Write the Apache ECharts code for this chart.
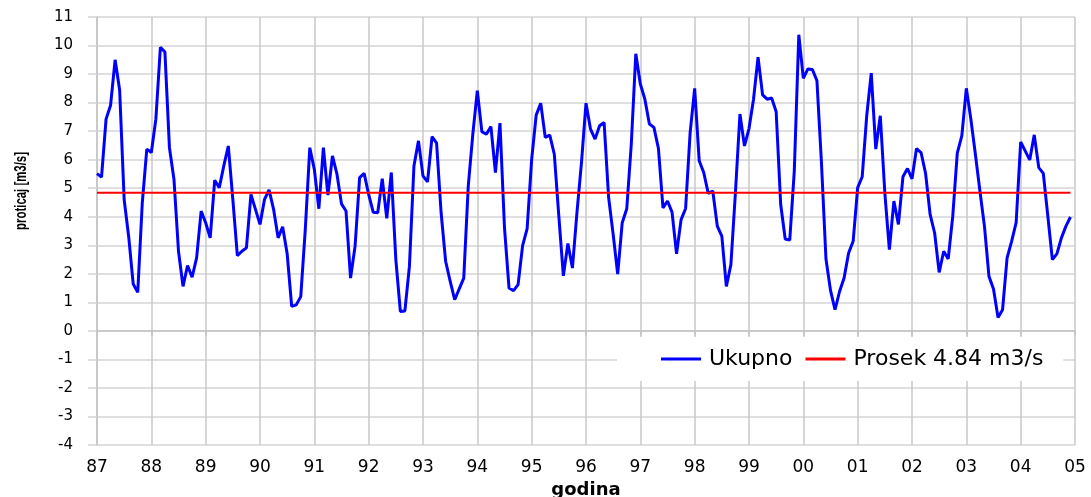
<!DOCTYPE html>
<html>
<head>
<meta charset="utf-8">
<script src="https://cdn.jsdelivr.net/npm/echarts@6/dist/echarts.min.js"></script>
<style>
html,body{margin:0;padding:0;background:#fff;}
#chart{width:1091px;height:497px;}
</style>
</head>
<body>
<div id="chart"></div>
<script>
// ---- data (monthly flow, Jan 1987 .. Dec 2004) ----
const startYear = 87;
const endYear = 105;
const yMin = -4;
const yMax = 11;
const seriesNames = ['Ukupno', 'Prosek 4.84 m3/s'];
const average = 4.84;
const flow = [
  5.51, 5.39, 7.42, 7.91, 9.50, 8.44, 4.60, 3.30, 1.64, 1.35, 4.49, 6.37,
  6.25, 7.42, 9.94, 9.77, 6.42, 5.31, 2.79, 1.56, 2.29, 1.88, 2.56, 4.20,
  3.79, 3.26, 5.28, 5.02, 5.78, 6.48, 4.61, 2.64, 2.79, 2.91, 4.78, 4.26,
  3.73, 4.61, 4.94, 4.26, 3.26, 3.65, 2.70, 0.86, 0.91, 1.20, 3.55, 6.42,
  5.66, 4.28, 6.42, 4.76, 6.13, 5.49, 4.45, 4.20, 1.85, 2.97, 5.37, 5.52,
  4.78, 4.16, 4.14, 5.33, 3.94, 5.55, 2.50, 0.68, 0.70, 2.26, 5.78, 6.66,
  5.43, 5.22, 6.81, 6.58, 4.14, 2.44, 1.74, 1.09, 1.47, 1.85, 5.08, 6.89,
  8.42, 6.98, 6.89, 7.16, 5.55, 7.28, 3.61, 1.50, 1.41, 1.62, 2.99, 3.58,
  6.01, 7.56, 7.98, 6.78, 6.86, 6.19, 4.02, 1.93, 3.06, 2.20, 4.14, 5.90,
  7.98, 7.07, 6.72, 7.19, 7.30, 4.67, 3.38, 1.99, 3.79, 4.28, 6.54, 9.71,
  8.65, 8.12, 7.25, 7.13, 6.39, 4.31, 4.55, 4.16, 2.70, 3.90, 4.29, 6.95,
  8.50, 5.96, 5.55, 4.82, 4.90, 3.67, 3.32, 1.56, 2.32, 4.84, 7.60, 6.48,
  7.09, 8.12, 9.59, 8.27, 8.12, 8.16, 7.68, 4.43, 3.22, 3.18, 5.60, 10.38,
  8.85, 9.18, 9.16, 8.77, 5.90, 2.52, 1.42, 0.74, 1.38, 1.85, 2.73, 3.14,
  5.02, 5.40, 7.54, 9.03, 6.37, 7.54, 4.84, 2.85, 4.55, 3.73, 5.40, 5.69,
  5.33, 6.39, 6.25, 5.52, 4.08, 3.43, 2.05, 2.79, 2.52, 4.02, 6.23, 6.83,
  8.50, 7.42, 6.19, 4.90, 3.67, 1.91, 1.47, 0.47, 0.74, 2.56, 3.14, 3.79,
  6.62, 6.31, 5.99, 6.87, 5.72, 5.52, 4.02, 2.50, 2.70, 3.26, 3.67, 3.99
];

const flowData = flow.map((v, i) => [startYear + i / 12, v]);
const avgData = [[startYear, average], [startYear + (flow.length - 1) / 12, average]];

const chart = echarts.init(document.getElementById('chart'), null, {renderer: 'canvas'});
const gridColor = '#d4d4d4';
chart.setOption({
  animation: false,
  backgroundColor: '#ffffff',
  grid: {left: 97, right: 16, top: 17, bottom: 52, containLabel: false, outerBoundsMode: 'none'},
  xAxis: {
    type: 'value',
    min: startYear, max: endYear, interval: 1,
    name: 'godina',
    nameLocation: 'middle',
    nameGap: 33,
    nameTextStyle: {fontFamily: 'DejaVu Sans', fontWeight: 'bold', fontSize: 18, color: '#000'},
    axisLine: {show: true, lineStyle: {color: '#c4c4c4', width: 1.5}},
    axisTick: {show: true, length: 5, lineStyle: {color: '#c4c4c4', width: 1.5}},
    axisLabel: {
      margin: 14,
      fontFamily: 'DejaVu Sans', fontSize: 17, color: '#000',
      formatter: v => String(Math.round(v) % 100).padStart(2, '0')
    },
    splitLine: {show: true, lineStyle: {color: '#c8c8c8', width: 1.5}}
  },
  yAxis: {
    type: 'value',
    min: yMin, max: yMax, interval: 1,
    axisLine: {show: true, lineStyle: {color: '#c4c4c4', width: 1.5}},
    axisTick: {show: true, length: 9, lineStyle: {color: '#d4d4d4', width: 1.5}},
    axisLabel: {margin: 24, fontFamily: 'DejaVu Sans', fontSize: 15, color: '#000'},
    splitLine: {show: true, lineStyle: {color: gridColor, width: 1.5}}
  },
  legend: {
    left: 617, top: 337,
    padding: [11, 20, 11, 44],
    backgroundColor: '#ffffff',
    itemWidth: 40, itemHeight: 3, itemGap: 13,
    icon: 'rect',
    textStyle: {fontFamily: 'DejaVu Sans', fontSize: 22, color: '#000', padding: [0, 0, 0, 3]},
    data: seriesNames
  },
  graphic: [{
    type: 'text',
    x: 21, y: 191,
    rotation: Math.PI / 2,
    scaleX: 0.67,
    style: {
      text: 'proticaj [m3/s]',
      font: 'bold 17px "Liberation Sans", Arial, sans-serif',
      fill: '#000',
      textAlign: 'center',
      textVerticalAlign: 'middle'
    }
  }],
  series: [
    {
      name: seriesNames[0], type: 'line', data: flowData,
      symbol: 'none', lineStyle: {color: '#0000ff', width: 3}, itemStyle: {color: '#0000ff'},
      z: 3
    },
    {
      name: seriesNames[1], type: 'line', data: avgData,
      symbol: 'none', lineStyle: {color: '#ff0000', width: 2}, itemStyle: {color: '#ff0000'},
      z: 3
    }
  ]
});
</script>
</body>
</html>
